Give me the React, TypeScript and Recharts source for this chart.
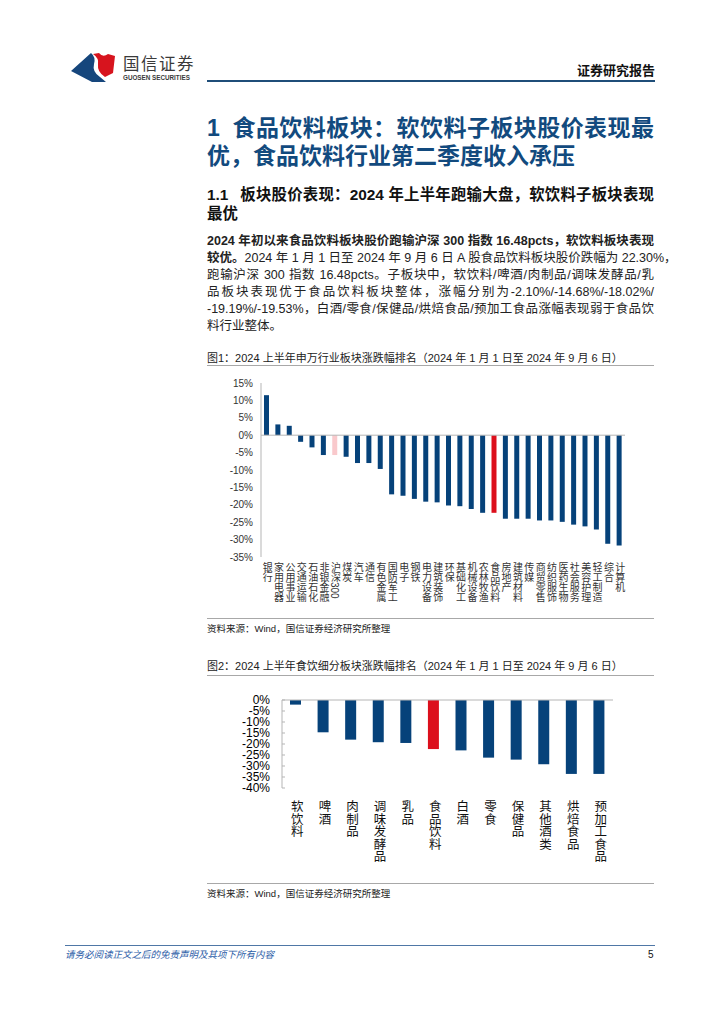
import React from "react";
import { BarChart, Bar, XAxis, YAxis, Cell, ReferenceLine } from "recharts";

// 图1：申万行业涨跌幅（%）
const industries = [
  "银行", "家用电器", "公用事业", "交通运输", "石油石化", "非银金融", "沪深300", "煤炭",
  "汽车", "通信", "有色金属", "国防军工", "电子", "钢铁", "电力设备", "建筑装饰",
  "环保", "基础化工", "机械设备", "农林牧渔", "食品饮料", "房地产", "建筑材料", "传媒",
  "商贸零售", "纺织服饰", "医药生物", "社会服务", "美容护理", "轻工制造", "综合", "计算机",
];
const industryChg = [
  11.5, 3.1, 2.7, -1.9, -3.5, -5.7, -5.7, -6.2,
  -8.0, -8.0, -9.7, -17.0, -17.4, -18.3, -19.1, -19.3,
  -20.2, -20.4, -21.2, -22.3, -22.3, -24.0, -24.0, -24.0,
  -24.5, -24.5, -24.9, -25.7, -26.2, -27.1, -31.2, -31.7,
];
const industryTicks = [15, 10, 5, 0, -5, -10, -15, -20, -25, -30, -35];

// 图2：食饮细分板块涨跌幅（%）
const subSectors = [
  "软饮料", "啤酒", "肉制品", "调味发酵品", "乳品", "食品饮料",
  "白酒", "零食", "保健品", "其他酒类", "烘焙食品", "预加工食品",
];
const subSectorChg = [-2.1, -14.68, -18.02, -19.19, -19.53, -22.3, -22.9, -26.2, -27.1, -29.2, -33.6, -33.6];
const subSectorTicks = [0, -5, -10, -15, -20, -25, -30, -35, -40];

const industryData = industries.map((name, i) => ({ name, chg: industryChg[i] }));
const subSectorData = subSectors.map((name, i) => ({ name, chg: subSectorChg[i] }));

const BLUE = "#06427a";
const RED = "#dc0f1c";
const PINK = "#f9c9cc";
const FONT = '"Liberation Sans", "Noto Sans CJK SC", sans-serif';

const barColor = (name: string) => (name === "食品饮料" ? RED : name === "沪深300" ? PINK : BLUE);

const VerticalTick = ({ x, y, payload, size, color }: any) => (
  <text
    x={x}
    y={y}
    textAnchor="start"
    fontSize={size}
    fill={color}
    fontFamily={FONT}
    style={{ writingMode: "vertical-rl" }}
  >
    {payload.value}
  </text>
);

const Y2Tick = ({ x, y, payload }: any) => (
  <g>
    <text x={x} y={y} dy={4.2} textAnchor="end" fontSize={12} fill="#000" fontFamily={FONT}>
      {payload.value}%
    </text>
    <line x1={x + 12} x2={x + 15} y1={y} y2={y} stroke="#b5b5b5" />
  </g>
);

const Line = ({ top, children, style, last }: any) => (
  <div
    style={{
      position: "absolute",
      left: 207,
      top,
      width: 447,
      whiteSpace: "nowrap",
      textAlign: last ? "left" : "justify",
      textAlignLast: last ? "left" : "justify",
      ...style,
    }}
  >
    {children}
  </div>
);

const h1 = { fontSize: 23, lineHeight: "28px", fontWeight: 700, color: "#124a7e" };
const h2 = { fontSize: 15.4, lineHeight: "20px", fontWeight: 700, color: "#111" };
const body = { fontSize: 12.5, lineHeight: "17px", color: "#222" };
const caption = { fontSize: 11, lineHeight: "14px", color: "#222" };
const source = { fontSize: 9.5, lineHeight: "12px", color: "#222" };

export default function App() {
  return (
    <div
      style={{
        position: "absolute",
        left: 0,
        top: 0,
        width: 724,
        height: 1024,
        background: "#fff",
        fontFamily: FONT,
        overflow: "hidden",
      }}
    >
      {/* Header */}
      <svg style={{ position: "absolute", left: 0, top: 0 }} width={724} height={100}>
        <path d="M71,71 L91,53 Q96,57 94,64 Q92,72 100,77 L106,82 L92,82 Z" fill="#16467c" />
        <path d="M93,54 L99,53 Q103,58 108,54 L115,56 L113,73 L105,77 Q97,72 98,64 Q99,58 93,54 Z" fill="#d7141e" />
        <text x={123} y={70} fontSize={16.5} fill="#3a3a3a" letterSpacing={1.5} fontFamily={FONT}>国信证券</text>
        <text x={123} y={80} fontSize={6.3} fontWeight={700} fill="#3a3a3a" fontFamily={FONT}>GUOSEN SECURITIES</text>
        <text x={655} y={75} fontSize={13} fontWeight={700} fill="#111" textAnchor="end" fontFamily={FONT}>证券研究报告</text>
        <rect x={207} y={80} width={448} height={2} fill="#1f4e79" />
      </svg>

      {/* Titles */}
      <Line top={114} style={h1}>
        <span style={{ display: "inline-block", width: 25, textAlignLast: "left" }}>1</span>食品饮料板块：软饮料子板块股价表现最
      </Line>
      <Line top={142} style={h1} last>优，食品饮料行业第二季度收入承压</Line>
      <Line top={185} style={h2}>
        <span style={{ display: "inline-block", width: 33, textAlignLast: "left" }}>1.1</span>板块股价表现：2024 年上半年跑输大盘，软饮料子板块表现
      </Line>
      <Line top={204} style={h2} last>最优</Line>

      {/* Paragraph */}
      <Line top={233} style={{ ...body, fontWeight: 700 }}>2024 年初以来食品饮料板块股价跑输沪深 300 指数 16.48pcts，软饮料板块表现</Line>
      <Line top={250} style={body}><b>较优。</b>2024 年 1 月 1 日至 2024 年 9 月 6 日 A 股食品饮料板块股价跌幅为 22.30%，</Line>
      <Line top={267} style={body}>跑输沪深 300 指数 16.48pcts。子板块中，软饮料/啤酒/肉制品/调味发酵品/乳</Line>
      <Line top={284} style={body}>品板块表现优于食品饮料板块整体，涨幅分别为-2.10%/-14.68%/-18.02%/</Line>
      <Line top={301} style={body}>-19.19%/-19.53%，白酒/零食/保健品/烘焙食品/预加工食品涨幅表现弱于食品饮</Line>
      <Line top={318} style={body} last>料行业整体。</Line>

      {/* Figure 1 */}
      <Line top={351} style={caption} last>图1：2024 上半年申万行业板块涨跌幅排名（2024 年 1 月 1 日至 2024 年 9 月 6 日）</Line>
      <div style={{ position: "absolute", left: 207, top: 365, width: 447, height: 1, background: "#a8a8a8" }} />
      <div style={{ position: "absolute", left: 200, top: 373 }}>
        <BarChart width={440} height={244} data={industryData} margin={{ top: 10, right: 15, left: 0, bottom: 0 }}>
          <XAxis
            dataKey="name"
            interval={0}
            axisLine={false}
            tickLine={false}
            tickSize={0}
            tickMargin={5}
            height={60}
            tick={<VerticalTick size={10} color="#333" />}
          />
          <YAxis
            width={61}
            domain={[-35, 15]}
            ticks={industryTicks}
            interval={0}
            tickFormatter={(v) => `${v}%`}
            tickLine={false}
            tickSize={0}
            tickMargin={8}
            axisLine={{ stroke: "#b5b5b5" }}
            tick={{ fontSize: 10, fill: "#333", fontFamily: FONT }}
          />
          <ReferenceLine y={0} stroke="#b5b5b5" />
          <Bar dataKey="chg" barSize={5} isAnimationActive={false}>
            {industryData.map((d) => (
              <Cell key={d.name} fill={barColor(d.name)} />
            ))}
          </Bar>
        </BarChart>
      </div>
      <div style={{ position: "absolute", left: 207, top: 618, width: 447, height: 1, background: "#a8a8a8" }} />
      <Line top={623} style={source} last>资料来源：Wind，国信证券经济研究所整理</Line>

      {/* Figure 2 */}
      <Line top={659} style={caption} last>图2：2024 上半年食饮细分板块涨跌幅排名（2024 年 1 月 1 日至 2024 年 9 月 6 日）</Line>
      <div style={{ position: "absolute", left: 207, top: 675, width: 447, height: 1, background: "#a8a8a8" }} />
      <div style={{ position: "absolute", left: 200, top: 690 }}>
        <BarChart width={423} height={178} data={subSectorData} margin={{ top: 10, right: 10, left: 0, bottom: 0 }}>
          <XAxis
            dataKey="name"
            interval={0}
            axisLine={false}
            tickLine={false}
            tickSize={0}
            tickMargin={12}
            height={80}
            tick={<VerticalTick size={12.5} color="#111" />}
          />
          <YAxis
            width={82}
            domain={[-40, 0]}
            ticks={subSectorTicks}
            interval={0}
            tickLine={false}
            tickSize={0}
            tickMargin={12}
            axisLine={{ stroke: "#b5b5b5" }}
            tick={<Y2Tick />}
          />
          <ReferenceLine y={0} stroke="#b5b5b5" />
          <Bar dataKey="chg" barSize={11} isAnimationActive={false}>
            {subSectorData.map((d) => (
              <Cell key={d.name} fill={barColor(d.name)} />
            ))}
          </Bar>
        </BarChart>
      </div>
      <div style={{ position: "absolute", left: 207, top: 883, width: 447, height: 1, background: "#a8a8a8" }} />
      <Line top={888} style={source} last>资料来源：Wind，国信证券经济研究所整理</Line>

      {/* Footer */}
      <div style={{ position: "absolute", left: 65, top: 945, width: 590, height: 1, background: "#4f77a6" }} />
      <div style={{ position: "absolute", left: 65, top: 949, fontSize: 9.5, lineHeight: "12px", fontStyle: "italic", color: "#2d5ea8" }}>
        请务必阅读正文之后的免责声明及其项下所有内容
      </div>
      <div style={{ position: "absolute", left: 648, top: 949, fontSize: 10, lineHeight: "12px", color: "#111" }}>5</div>
    </div>
  );
}
